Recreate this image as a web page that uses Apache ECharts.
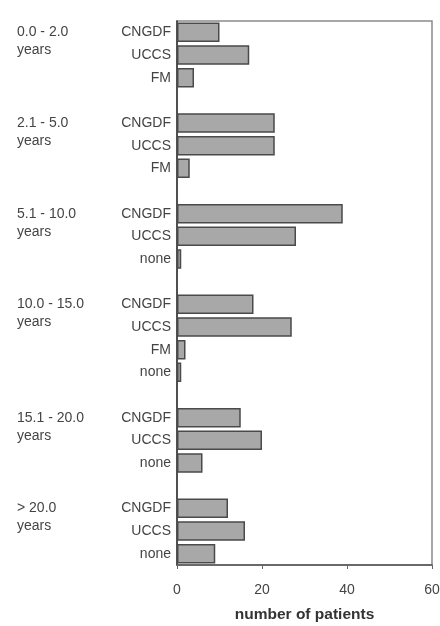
<!DOCTYPE html>
<html>
<head>
<meta charset="utf-8">
<style>
  html, body { margin: 0; padding: 0; background: #fff; }
  #chart { width: 440px; height: 626px; }
</style>
<script src="https://cdn.jsdelivr.net/npm/echarts@6/dist/echarts.min.js"></script>
</head>
<body>
<div id="chart"></div>
<script>
// Age groups, each with its treatment rows; an empty row separates the groups.
const ageGroups = ['0.0 - 2.0', '2.1 - 5.0', '5.1 - 10.0', '10.0 - 15.0', '15.1 - 20.0', '> 20.0'];
const treatments = [
  ['CNGDF', 'UCCS', 'FM'],
  ['CNGDF', 'UCCS', 'FM'],
  ['CNGDF', 'UCCS', 'none'],
  ['CNGDF', 'UCCS', 'FM', 'none'],
  ['CNGDF', 'UCCS', 'none'],
  ['CNGDF', 'UCCS', 'none']
];
const patients = [
  [10, 17, 4],
  [23, 23, 3],
  [39, 28, 1],
  [18, 27, 2, 1],
  [15, 20, 6],
  [12, 16, 9]
];
const xTicks = [0, 20, 40, 60];

// Flatten into one row list: treatment labels, group labels on first row, values.
const rowLabels = [];
const groupLabels = [];
const values = [];
ageGroups.forEach((g, gi) => {
  treatments[gi].forEach((t, ti) => {
    rowLabels.push(t);
    groupLabels.push(ti === 0 ? g : '');
    values.push(patients[gi][ti]);
  });
  if (gi < ageGroups.length - 1) {
    rowLabels.push('');
    groupLabels.push('');
    values.push(null);
  }
});
const rowIndex = rowLabels.map((_, i) => i);

const chart = echarts.init(document.getElementById('chart'));
const fontFamily = '"Liberation Sans", Arial, sans-serif';

chart.setOption({
  animation: false,
  backgroundColor: '#ffffff',
  grid: {
    left: 177, right: 8, top: 21, bottom: 61,
    containLabel: false,
    outerBoundsMode: 'none',
    show: true, borderColor: '#8a8a8a', borderWidth: 1.5, backgroundColor: 'transparent'
  },
  xAxis: {
    type: 'value',
    min: xTicks[0],
    max: xTicks[xTicks.length - 1],
    interval: xTicks[1] - xTicks[0],
    name: 'number of patients',
    nameLocation: 'middle',
    nameGap: 42,
    nameTextStyle: { fontFamily, fontSize: 15.5, fontWeight: 'bold', color: '#333' },
    axisLine: { show: true, lineStyle: { color: '#555', width: 1.5 } },
    axisTick: { show: true, length: 4, lineStyle: { color: '#666' } },
    axisLabel: { margin: 18, fontFamily, fontSize: 14, color: '#444' },
    splitLine: { show: false }
  },
  yAxis: [
    {
      type: 'category',
      inverse: true,
      data: rowIndex,
      axisLine: { show: true, lineStyle: { color: '#333', width: 1.5 } },
      axisTick: { show: false },
      axisLabel: {
        interval: 0, margin: 6, fontFamily, fontSize: 14, color: '#444',
        formatter: (v) => rowLabels[v]
      }
    },
    {
      type: 'category',
      position: 'left',
      inverse: true,
      data: rowIndex,
      axisLine: { show: false },
      axisTick: { show: false },
      axisLabel: {
        interval: 0, margin: 160, align: 'left', verticalAlign: 'middle',
        fontFamily, fontSize: 14, color: '#444', lineHeight: 18,
        formatter: (v) => groupLabels[v] ? '\n' + groupLabels[v] + '\nyears' : ''
      }
    }
  ],
  series: [{
    type: 'bar',
    yAxisIndex: 0,
    data: values,
    barCategoryGap: '14%',
    itemStyle: { color: '#a8a8a8', borderColor: '#4a4a4a', borderWidth: 1.5 }
  }]
});
</script>
</body>
</html>
